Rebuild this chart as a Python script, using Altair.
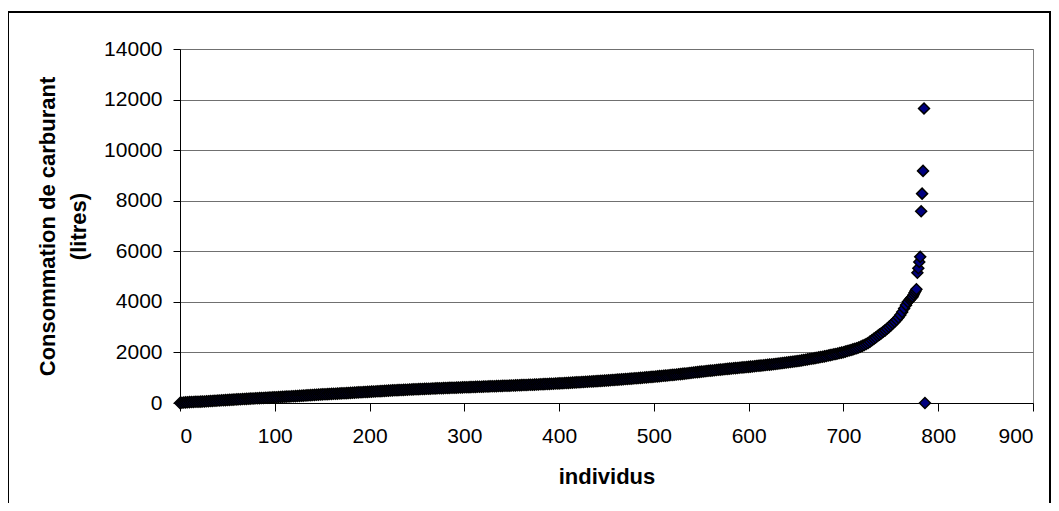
import altair as alt
import pandas as pd

# rank of each individual (sorted by consumption) and fuel consumption in litres
individus = [
    0, 2, 4, 6, 8, 10, 12, 14, 16, 18, 20, 22, 24, 26, 28, 30, 32, 34, 36, 38,
    40, 42, 44, 46, 48, 50, 52, 54, 56, 58, 60, 62, 64, 66, 68, 70, 72, 74, 76, 78,
    80, 82, 84, 86, 88, 90, 92, 94, 96, 98, 100, 102, 104, 106, 108, 110, 112, 114, 116, 118,
    120, 122, 124, 126, 128, 130, 132, 134, 136, 138, 140, 142, 144, 146, 148, 150, 152, 154, 156, 158,
    160, 162, 164, 166, 168, 170, 172, 174, 176, 178, 180, 182, 184, 186, 188, 190, 192, 194, 196, 198,
    200, 202, 204, 206, 208, 210, 212, 214, 216, 218, 220, 222, 224, 226, 228, 230, 232, 234, 236, 238,
    240, 242, 244, 246, 248, 250, 252, 254, 256, 258, 260, 262, 264, 266, 268, 270, 272, 274, 276, 278,
    280, 282, 284, 286, 288, 290, 292, 294, 296, 298, 300, 302, 304, 306, 308, 310, 312, 314, 316, 318,
    320, 322, 324, 326, 328, 330, 332, 334, 336, 338, 340, 342, 344, 346, 348, 350, 352, 354, 356, 358,
    360, 362, 364, 366, 368, 370, 372, 374, 376, 378, 380, 382, 384, 386, 388, 390, 392, 394, 396, 398,
    400, 402, 404, 406, 408, 410, 412, 414, 416, 418, 420, 422, 424, 426, 428, 430, 432, 434, 436, 438,
    440, 442, 444, 446, 448, 450, 452, 454, 456, 458, 460, 462, 464, 466, 468, 470, 472, 474, 476, 478,
    480, 482, 484, 486, 488, 490, 492, 494, 496, 498, 500, 502, 504, 506, 508, 510, 512, 514, 516, 518,
    520, 522, 524, 526, 528, 530, 532, 534, 536, 538, 540, 542, 544, 546, 548, 550, 552, 554, 556, 558,
    560, 562, 564, 566, 568, 570, 572, 574, 576, 578, 580, 582, 584, 586, 588, 590, 592, 594, 596, 598,
    600, 602, 604, 606, 608, 610, 612, 614, 616, 618, 620, 622, 624, 626, 628, 630, 632, 634, 636, 638,
    640, 642, 644, 646, 648, 650, 652, 654, 656, 658, 660, 662, 664, 666, 668, 670, 672, 674, 676, 678,
    680, 682, 684, 686, 688, 690, 692, 694, 696, 698, 700, 702, 704, 706, 708, 710, 712, 714, 716, 718,
    720, 722, 724, 726, 728, 730, 732, 734, 736, 738, 740, 742, 744, 746, 748, 750, 752, 754, 756, 758,
    760, 762, 764, 766, 768, 770, 771, 772, 773, 774, 775, 776, 777, 778, 779, 780, 781, 782, 783, 784,
    785, 786,
]
consommation = [
    0, 10, 18, 24, 30, 35, 39, 43, 46, 49, 52, 55, 58, 62, 67, 72, 77, 82, 86, 91,
    96, 101, 106, 110, 115, 120, 124, 129, 133, 138, 142, 146, 151, 155, 160, 164, 169, 173, 177, 181,
    185, 189, 193, 197, 201, 205, 209, 213, 217, 221, 225, 229, 234, 238, 243, 247, 251, 256, 260, 265,
    269, 273, 278, 282, 287, 292, 297, 302, 306, 311, 316, 321, 326, 330, 335, 340, 344, 348, 352, 356,
    360, 364, 368, 372, 376, 380, 384, 388, 392, 396, 401, 405, 410, 414, 419, 423, 427, 432, 436, 441,
    445, 449, 454, 458, 463, 467, 471, 476, 480, 485, 489, 493, 498, 502, 505, 509, 513, 516, 520, 524,
    527, 531, 534, 538, 542, 545, 548, 551, 555, 558, 561, 564, 567, 571, 574, 577, 580, 583, 586, 589,
    592, 595, 598, 600, 603, 606, 609, 612, 614, 617, 620, 623, 626, 628, 631, 634, 637, 640, 642, 645,
    648, 651, 654, 656, 659, 662, 665, 668, 670, 673, 676, 679, 682, 684, 687, 690, 693, 696, 699, 703,
    706, 709, 712, 715, 719, 722, 725, 728, 732, 735, 739, 743, 746, 750, 753, 757, 761, 764, 768, 771,
    775, 779, 784, 788, 793, 797, 801, 806, 810, 815, 819, 823, 828, 832, 837, 842, 847, 852, 856, 861,
    866, 871, 876, 880, 885, 890, 896, 901, 907, 912, 918, 924, 929, 935, 940, 946, 952, 957, 963, 970,
    976, 982, 989, 995, 1002, 1008, 1014, 1021, 1027, 1034, 1040, 1047, 1054, 1062, 1069, 1076, 1083, 1090, 1098, 1105,
    1112, 1119, 1126, 1134, 1143, 1152, 1161, 1170, 1178, 1187, 1196, 1205, 1214, 1222, 1231, 1240, 1248, 1256, 1264, 1272,
    1280, 1288, 1296, 1304, 1312, 1320, 1328, 1336, 1344, 1351, 1358, 1365, 1372, 1380, 1387, 1394, 1401, 1408, 1416, 1423,
    1430, 1438, 1446, 1454, 1462, 1470, 1478, 1486, 1494, 1502, 1510, 1518, 1526, 1535, 1544, 1554, 1564, 1573, 1583, 1592,
    1602, 1612, 1621, 1631, 1640, 1650, 1662, 1674, 1686, 1698, 1710, 1724, 1738, 1751, 1763, 1775, 1789, 1803, 1817, 1831,
    1845, 1861, 1877, 1893, 1909, 1925, 1941, 1957, 1974, 1992, 2010, 2032, 2054, 2076, 2098, 2120, 2144, 2168, 2194, 2228,
    2260, 2296, 2332, 2374, 2426, 2480, 2536, 2592, 2648, 2704, 2760, 2816, 2872, 2934, 3002, 3070, 3142, 3214, 3290, 3380,
    3480, 3600, 3740, 3870, 4000, 4080, 4130, 4170, 4200, 4280, 4360, 4430, 4500, 5150, 5330, 5580, 5780, 7580, 8280, 9180,
    11650, 0,
]

x_ticks = [0, 100, 200, 300, 400, 500, 600, 700, 800, 900]
y_ticks = [0, 2000, 4000, 6000, 8000, 10000, 12000, 14000]

df = pd.DataFrame({"individus": individus, "consommation": consommation})

FONT = "Liberation Sans"
W, H = 853, 354

points = alt.Chart(df).mark_point(
    shape="diamond", filled=True, size=120, fill="#000080", stroke="#000000",
    strokeWidth=1.5, opacity=1,
).encode(
    x=alt.X("individus:Q", scale=alt.Scale(domain=[0, 900], nice=False),
            axis=alt.Axis(values=x_ticks, format="d", title="individus", grid=False,
                          tickSize=8, labelPadding=14, titlePadding=20)),
    y=alt.Y("consommation:Q", scale=alt.Scale(domain=[0, 14000], nice=False),
            axis=alt.Axis(values=y_ticks, format="d",
                          title=["Consommation de carburant", "(litres)"],
                          grid=True, tickSize=7, labelPadding=11, titlePadding=13,
                          titleLineHeight=31)),
)

frame = alt.Chart(alt.Data(values=[{"a": 1}])).mark_rect(
    filled=False, stroke="#000000", strokeWidth=2
).encode(
    x=alt.value(-172), x2=alt.value(870), y=alt.value(-37), y2=alt.value(480)
)

chart = alt.layer(frame, points).properties(
    width=W, height=H,
    autosize=alt.AutoSizeParams(type="none"),
    padding={"left": 172, "top": 41, "right": 18, "bottom": 100},
    background="white",
).configure_view(
    stroke="#808080", strokeWidth=1
).configure_axis(
    labelFont=FONT, titleFont=FONT, labelFontSize=21, titleFontSize=22,
    labelColor="#000000", titleColor="#000000", titleFontWeight="bold",
    domainColor="#000000", tickColor="#000000", gridColor="#707070",
    gridWidth=1, domainWidth=1, tickWidth=1,
)

chart.save("out.html", embed_options={"renderer": "svg", "actions": False})
